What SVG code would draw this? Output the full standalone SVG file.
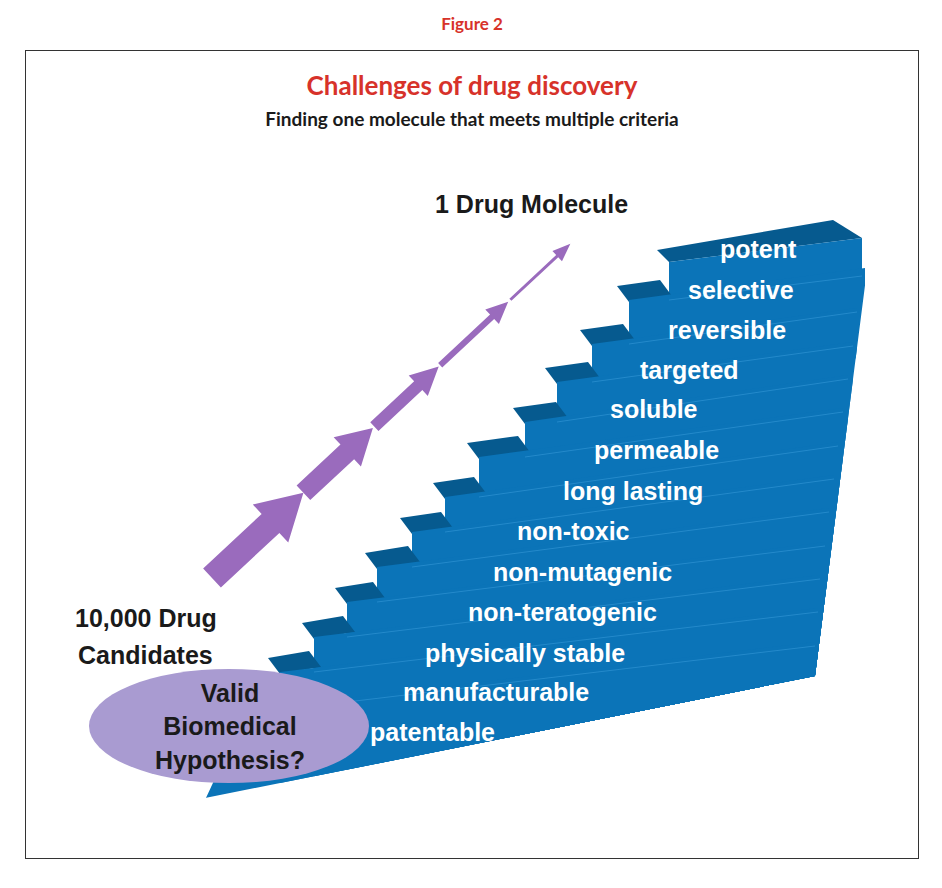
<svg xmlns="http://www.w3.org/2000/svg" width="942" height="888" viewBox="0 0 942 888">
<style>
.f{fill:#0b74b8}.t{fill:#065a8f}.lab{font-family:"Liberation Sans",Arial,sans-serif;font-weight:bold;font-size:25px;fill:#fff}
.blk{font-family:"Liberation Sans",Arial,sans-serif;font-weight:bold;font-size:25px;fill:#1a1a1a}
.arr{fill:#9a6bbd}
</style>
<defs><clipPath id="c"><polygon points="0,0 868,0 868,262 815,676 205,798 0,860"/></clipPath></defs>
<rect width="942" height="888" fill="#fff"/>
<text x="472" y="30" text-anchor="middle" font-family="Lato,sans-serif" font-weight="bold" font-size="17" fill="#d7322a">Figure 2</text>
<rect x="25.5" y="50.5" width="893" height="808" fill="none" stroke="#333" stroke-width="1"/>
<text x="472" y="95" text-anchor="middle" font-family="Lato,sans-serif" font-weight="bold" font-size="26" fill="#d7322a">Challenges of drug discovery</text>
<text x="472" y="126" text-anchor="middle" font-family="Lato,sans-serif" font-weight="bold" font-size="19" fill="#1a1a1a">Finding one molecule that meets multiple criteria</text>
<g id="stairs">
<g clip-path="url(#c)">
<polygon class="t" points="657,250 833,220 862,238 669,262"/>
<polygon class="f" points="669,262 862,238 862,300 669,800"/>
<polygon class="t" points="617,286 660,280 672,296 629,302"/><polygon class="f" points="629,300 865,268 865,340 629,800"/>
<polygon class="t" points="580,330 623,324 635,340 592,346"/><polygon class="f" points="592,344 857,308 857,800 592,800"/>
<polygon class="t" points="545,368 588,362 600,378 557,384"/><polygon class="f" points="557,382 853,342 853,800 557,800"/>
<polygon class="t" points="513,408 556,402 568,418 525,424"/><polygon class="f" points="525,422 848,375 848,800 525,800"/>
<polygon class="t" points="467,443 518,436 530,452 479,459"/><polygon class="f" points="479,457 843,408 843,800 479,800"/>
<polygon class="t" points="433,483 474,477 486,493 445,499"/><polygon class="f" points="445,497 838,442 838,800 445,800"/>
<polygon class="t" points="400,518 441,512 453,528 412,534"/><polygon class="f" points="412,532 834,475 834,800 412,800"/>
<polygon class="t" points="365,553 408,546 420,562 377,569"/><polygon class="f" points="377,567 829,508 829,800 377,800"/>
<polygon class="t" points="335,588 373,582 385,598 347,604"/><polygon class="f" points="347,602 825,542 825,800 347,800"/>
<polygon class="t" points="302,623 343,616 355,632 314,639"/><polygon class="f" points="314,637 820,575 820,800 314,800"/>
<polygon class="t" points="268,658 309,651 321,667 280,674"/><polygon class="f" points="280,672 818,608 818,800 280,800"/>
<polygon class="t" points="235,696 275,689 287,705 247,712"/><polygon class="f" points="247,710 815,642 815,800 205,800"/>
</g>
<g stroke="#2f93d3" stroke-width="1" fill="none" opacity="0.7">
<line x1="669" y1="300" x2="862" y2="276"/>
<line x1="629" y1="344" x2="857" y2="312"/>
<line x1="592" y1="382" x2="853" y2="346"/>
<line x1="557" y1="422" x2="848" y2="379"/>
<line x1="525" y1="457" x2="843" y2="412"/>
<line x1="479" y1="497" x2="838" y2="446"/>
<line x1="445" y1="532" x2="834" y2="479"/>
<line x1="412" y1="567" x2="829" y2="512"/>
<line x1="377" y1="602" x2="825" y2="546"/>
<line x1="347" y1="637" x2="820" y2="579"/>
<line x1="314" y1="672" x2="818" y2="612"/>
<line x1="280" y1="710" x2="815" y2="646"/>
</g>
<text class="lab" x="720" y="258">potent</text>
<text class="lab" x="688" y="299">selective</text>
<text class="lab" x="668" y="339">reversible</text>
<text class="lab" x="640" y="379">targeted</text>
<text class="lab" x="610" y="418">soluble</text>
<text class="lab" x="594" y="459">permeable</text>
<text class="lab" x="563" y="500">long lasting</text>
<text class="lab" x="517" y="540">non-toxic</text>
<text class="lab" x="493" y="581">non-mutagenic</text>
<text class="lab" x="468" y="621">non-teratogenic</text>
<text class="lab" x="425" y="662">physically stable</text>
<text class="lab" x="403" y="701">manufacturable</text>
<text class="lab" x="370" y="741">patentable</text>
</g>
<g id="arrows" transform="translate(212,578) rotate(-43)">
<polygon class="arr" points="0,-13 80,-13 80,-26 125,0 80,26 80,13 0,13"/>
<polygon class="arr" points="125,-10 185,-10 185,-20 220,0 185,20 185,10 125,10"/>
<polygon class="arr" points="222,-6 282,-6 282,-14 310,0 282,14 282,6 222,6"/>
<polygon class="arr" points="312,-3 383,-3 383,-10 405,0 383,10 383,3 312,3"/>
<polygon class="arr" points="408,-1.5 472,-1.5 472,-7 490,0 472,7 472,1.5 408,1.5"/>
</g>
<g id="top-label"><text class="blk" x="435" y="213">1 Drug Molecule</text></g>
<g id="candidates"><text class="blk" x="75" y="627">10,000 Drug</text><text class="blk" x="78" y="664">Candidates</text></g>
<g id="hypothesis">
<ellipse cx="229" cy="726" rx="140" ry="57" fill="#a99bd1"/>
<text class="blk" x="230" y="702" text-anchor="middle">Valid</text>
<text class="blk" x="230" y="735" text-anchor="middle">Biomedical</text>
<text class="blk" x="230" y="769" text-anchor="middle">Hypothesis?</text>
</g>
</svg>
